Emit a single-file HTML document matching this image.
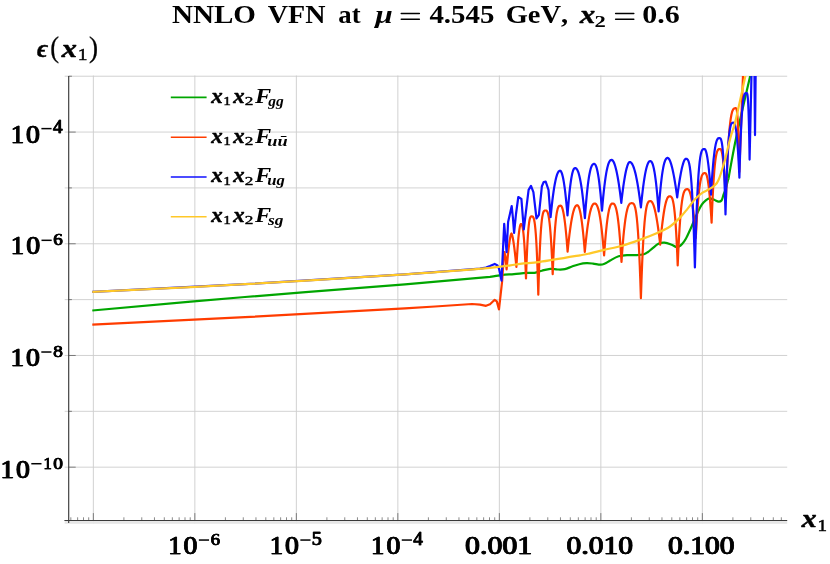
<!DOCTYPE html>
<html><head><meta charset="utf-8"><title>NNLO VFN</title>
<style>html,body{margin:0;padding:0;background:#fff;font-family:"Liberation Serif",serif}svg{display:block}</style>
</head><body>
<svg width="830" height="564" viewBox="0 0 830 564">
<rect width="830" height="564" fill="#fff"/>
<path d="M93.35 75.50 V523.50 M194.85 75.50 V523.50 M296.35 75.50 V523.50 M397.85 75.50 V523.50 M499.35 75.50 V523.50 M600.85 75.50 V523.50 M702.35 75.50 V523.50 M64.70 467.17 H787.20 M64.70 411.32 H787.20 M64.70 355.47 H787.20 M64.70 299.62 H787.20 M64.70 243.77 H787.20 M64.70 187.92 H787.20 M64.70 132.07 H787.20 M64.70 76.22 H787.20" stroke="#cdcdcd" stroke-width="0.9" fill="none"/>
<rect x="64.70" y="521.10" width="722.50" height="2.7" fill="#e6e6e6"/>
<defs><clipPath id="c"><rect x="68.70" y="76.00" width="718.50" height="444.50"/></clipPath></defs>
<g clip-path="url(#c)" fill="none" stroke-width="2.2" stroke-linejoin="round" stroke-linecap="butt">
<path d="M92.30 310.50 C117.75 308.25 192.88 301.37 245.00 297.00 C297.12 292.63 364.17 287.67 405.00 284.30 C445.83 280.93 473.83 278.35 490.00 276.80 C502.00 275.25 498.00 275.45 502.00 275.00 C506.00 274.55 509.97 274.45 514.00 274.10 C518.03 273.75 522.77 273.12 526.20 272.90 C529.63 272.68 531.98 273.17 534.60 272.80 C537.22 272.43 539.28 271.37 541.90 270.70 C544.52 270.03 547.68 269.00 550.30 268.80 C552.92 268.60 555.18 269.43 557.60 269.50 C560.02 269.57 562.40 269.70 564.80 269.20 C567.20 268.70 569.58 267.33 572.00 266.50 C574.42 265.67 576.88 264.75 579.30 264.20 C581.72 263.65 584.22 263.30 586.50 263.20 C588.78 263.10 590.67 263.35 593.00 263.60 C595.33 263.85 598.50 264.72 600.50 264.70 C602.50 264.68 603.38 264.20 605.00 263.50 C606.62 262.80 607.93 261.70 610.20 260.50 C612.47 259.30 615.58 257.20 618.60 256.30 C621.62 255.40 625.28 255.30 628.30 255.10 C631.32 254.90 634.10 255.25 636.70 255.10 C639.30 254.95 642.02 254.72 643.90 254.20 C645.78 253.68 646.58 252.97 648.00 252.00 C649.42 251.03 650.67 249.77 652.40 248.40 C654.13 247.03 656.40 244.75 658.40 243.80 C660.40 242.85 662.18 242.53 664.40 242.70 C666.62 242.87 669.77 244.10 671.70 244.80 C673.63 245.50 674.78 246.62 676.00 246.90 C677.22 247.18 677.98 246.98 679.00 246.50 C680.02 246.02 680.93 245.33 682.10 244.00 C683.27 242.67 684.60 241.00 686.00 238.50 C687.40 236.00 688.53 233.42 690.50 229.00 C692.47 224.58 695.92 216.05 697.80 212.00 C699.68 207.95 700.52 206.60 701.80 204.70 C703.08 202.80 704.25 201.65 705.50 200.60 C706.75 199.55 707.85 198.53 709.30 198.40 C710.75 198.27 712.67 199.25 714.20 199.80 C715.73 200.35 717.28 201.58 718.50 201.70 C719.72 201.82 720.65 201.70 721.50 200.50 C722.35 199.30 722.93 196.33 723.60 194.50 C724.27 192.67 724.78 191.87 725.50 189.50 C726.22 187.13 727.30 182.72 727.90 180.30 C728.50 177.88 727.90 182.23 729.10 175.00 C730.50 167.77 732.78 153.40 736.30 136.90 C739.82 120.40 747.88 86.15 750.20 76.00" stroke="#00a600"/>
<polyline points="92.30,324.60 245.00,317.20 405.00,308.40 435.00,306.50 472.00,304.00 480.00,304.60 486.00,305.80 490.00,304.20 494.70,299.80 496.80,301.40 499.00,309.40 502.10,281.50 503.60,259.00 504.50,252.20 505.50,257.00 506.60,269.30 506.91,265.73 507.21,262.31 507.52,259.04 507.83,255.92 508.13,252.96 508.44,250.16 508.74,247.54 509.05,245.09 509.36,242.83 509.66,240.76 509.97,238.89 510.27,237.25 510.58,235.85 510.89,234.71 511.19,233.89 511.50,233.50 511.81,234.00 512.11,234.92 512.42,236.13 512.73,237.57 513.03,239.21 513.34,241.03 513.64,243.02 513.95,245.16 514.26,247.44 514.56,249.86 514.87,252.41 515.17,255.08 515.48,257.87 515.79,260.77 516.09,263.78 516.40,266.90 516.69,261.83 516.98,257.07 517.26,252.62 517.55,248.48 517.84,244.66 518.12,241.16 518.41,237.97 518.70,235.10 518.99,232.56 519.27,230.34 519.56,228.44 519.85,226.87 520.14,225.64 520.42,224.74 520.71,224.19 521.00,224.00 521.31,224.06 521.62,224.32 521.94,224.86 522.25,225.76 522.56,227.05 522.88,228.80 523.19,231.03 523.50,233.79 523.81,237.10 524.12,241.01 524.44,245.54 524.75,250.72 525.06,256.58 525.38,263.15 525.69,270.45 526.00,278.50 526.35,268.16 526.70,259.00 527.05,250.96 527.40,243.97 527.75,237.97 528.10,232.88 528.45,228.64 528.80,225.18 529.15,222.42 529.50,220.30 529.85,218.73 530.20,217.64 530.55,216.95 530.90,216.58 531.25,216.42 531.60,216.40 532.02,216.41 532.44,216.50 532.86,216.77 533.27,217.33 533.69,218.29 534.11,219.79 534.53,221.95 534.95,224.91 535.37,228.81 535.79,233.78 536.21,239.98 536.62,247.55 537.04,256.64 537.46,267.41 537.88,280.01 538.30,294.60 538.75,278.91 539.20,265.36 539.65,253.77 540.10,244.00 540.55,235.86 541.00,229.19 541.45,223.84 541.90,219.65 542.35,216.47 542.80,214.14 543.25,212.53 543.70,211.50 544.15,210.90 544.60,210.61 545.05,210.51 545.50,210.50 545.95,210.52 546.40,210.66 546.85,211.00 547.30,211.66 547.75,212.70 548.20,214.23 548.65,216.33 549.10,219.07 549.55,222.55 550.00,226.84 550.45,232.03 550.90,238.19 551.35,245.40 551.80,253.73 552.25,263.28 552.70,274.10 553.19,261.66 553.69,250.86 554.18,241.57 554.68,233.66 555.17,227.04 555.66,221.56 556.16,217.13 556.65,213.63 557.14,210.93 557.64,208.94 558.13,207.54 558.62,206.62 559.12,206.08 559.61,205.81 560.11,205.71 560.60,205.70 561.04,205.84 561.48,206.30 561.91,207.10 562.35,208.25 562.79,209.75 563.23,211.63 563.66,213.88 564.10,216.51 564.54,219.52 564.98,222.92 565.41,226.70 565.85,230.89 566.29,235.46 566.73,240.44 567.16,245.82 567.60,251.60 568.19,245.70 568.79,240.21 569.38,235.15 569.98,230.49 570.57,226.25 571.16,222.42 571.76,218.99 572.35,215.96 572.94,213.32 573.54,211.06 574.13,209.19 574.73,207.69 575.32,206.56 575.91,205.78 576.51,205.33 577.10,205.20 577.58,205.33 578.06,205.77 578.54,206.54 579.02,207.66 579.51,209.15 579.99,211.02 580.47,213.28 580.95,215.92 581.43,218.97 581.91,222.42 582.39,226.28 582.88,230.56 583.36,235.25 583.84,240.37 584.32,245.92 584.80,251.90 585.41,245.49 586.02,239.58 586.64,234.15 587.25,229.20 587.86,224.72 588.48,220.71 589.09,217.15 589.70,214.03 590.31,211.35 590.92,209.09 591.54,207.25 592.15,205.79 592.76,204.72 593.38,204.00 593.99,203.61 594.60,203.50 595.19,203.57 595.79,203.88 596.38,204.49 596.98,205.46 597.57,206.83 598.16,208.62 598.76,210.87 599.35,213.60 599.94,216.85 600.54,220.62 601.13,224.95 601.73,229.84 602.32,235.33 602.91,241.43 603.51,248.14 604.10,255.50 604.62,248.14 605.15,241.43 605.68,235.33 606.20,229.84 606.73,224.95 607.25,220.62 607.77,216.85 608.30,213.60 608.83,210.87 609.35,208.62 609.88,206.83 610.40,205.46 610.92,204.49 611.45,203.88 611.98,203.57 612.50,203.50 613.06,203.54 613.62,203.73 614.19,204.18 614.75,204.97 615.31,206.15 615.88,207.81 616.44,209.99 617.00,212.76 617.56,216.17 618.12,220.26 618.69,225.10 619.25,230.72 619.81,237.18 620.38,244.52 620.94,252.77 621.50,262.00 622.13,252.68 622.76,244.35 623.39,236.96 624.02,230.46 624.66,224.80 625.29,219.94 625.92,215.83 626.55,212.42 627.18,209.65 627.81,207.47 628.44,205.83 629.08,204.65 629.71,203.87 630.34,203.43 630.97,203.24 631.60,203.20 632.18,203.21 632.76,203.32 633.34,203.65 633.92,204.32 634.51,205.50 635.09,207.31 635.67,209.94 636.25,213.53 636.83,218.25 637.41,224.29 637.99,231.81 638.58,241.00 639.16,252.03 639.74,265.10 640.32,280.39 640.90,298.10 641.51,280.00 642.11,264.37 642.72,251.01 643.33,239.73 643.93,230.34 644.54,222.66 645.14,216.49 645.75,211.66 646.36,207.98 646.96,205.30 647.57,203.45 648.17,202.25 648.78,201.56 649.39,201.22 649.99,201.11 650.60,201.10 651.20,201.28 651.80,201.81 652.40,202.68 653.00,203.89 653.60,205.45 654.20,207.34 654.80,209.57 655.40,212.14 656.00,215.04 656.60,218.28 657.20,221.85 657.80,225.75 658.40,229.99 659.00,234.56 659.60,239.47 660.20,244.70 660.78,238.29 661.36,232.38 661.94,226.95 662.53,222.00 663.11,217.52 663.69,213.51 664.27,209.95 664.85,206.83 665.43,204.15 666.01,201.89 666.59,200.05 667.17,198.59 667.76,197.52 668.34,196.80 668.92,196.41 669.50,196.30 670.01,196.31 670.52,196.40 671.04,196.66 671.55,197.18 672.06,198.08 672.58,199.46 673.09,201.44 673.60,204.12 674.11,207.63 674.62,212.08 675.14,217.59 675.65,224.30 676.16,232.31 676.68,241.77 677.19,252.79 677.70,265.50 678.31,251.26 678.93,238.97 679.54,228.46 680.15,219.59 680.76,212.20 681.38,206.16 681.99,201.30 682.60,197.50 683.21,194.62 683.83,192.51 684.44,191.05 685.05,190.10 685.66,189.56 686.27,189.30 686.89,189.21 687.50,189.20 688.02,189.30 688.54,189.68 689.06,190.39 689.58,191.45 690.09,192.90 690.61,194.74 691.13,197.00 691.65,199.69 692.17,202.82 692.69,206.40 693.21,210.45 693.72,214.98 694.24,219.99 694.76,225.49 695.28,231.49 695.80,238.00 696.38,226.75 696.95,216.87 697.52,208.27 698.10,200.88 698.67,194.59 699.25,189.32 699.82,184.99 700.40,181.50 700.98,178.76 701.55,176.69 702.12,175.20 702.70,174.19 703.27,173.57 703.85,173.24 704.42,173.12 705.00,173.10 705.41,173.20 705.83,173.56 706.24,174.25 706.65,175.29 707.06,176.71 707.48,178.55 707.89,180.81 708.30,183.51 708.71,186.66 709.12,190.29 709.54,194.40 709.95,199.01 710.36,204.12 710.77,209.75 711.19,215.91 711.60,222.60 712.13,208.87 712.66,197.01 713.19,186.87 713.73,178.31 714.26,171.19 714.79,165.36 715.32,160.68 715.85,157.01 716.38,154.22 716.91,152.19 717.44,150.78 717.98,149.87 718.51,149.35 719.04,149.09 719.57,149.01 720.10,149.00 720.46,149.08 720.83,149.41 721.19,150.05 721.55,151.05 721.91,152.44 722.27,154.25 722.64,156.50 723.00,159.23 723.36,162.44 723.73,166.15 724.09,170.40 724.45,175.18 724.81,180.52 725.17,186.42 725.54,192.91 725.90,200.00 726.51,182.87 727.12,168.08 727.74,155.44 728.35,144.76 728.96,135.88 729.58,128.60 730.19,122.76 730.80,118.19 731.41,114.72 732.02,112.18 732.64,110.42 733.25,109.29 733.86,108.63 734.48,108.32 735.09,108.21 735.70,108.20 735.93,108.22 736.15,108.35 736.38,108.70 736.60,109.35 736.83,110.39 737.05,111.91 737.27,114.00 737.50,116.75 737.73,120.23 737.95,124.53 738.17,129.72 738.40,135.90 738.62,143.14 738.85,151.52 739.07,161.11 739.30,172.00 743.20,70.00" stroke="#ff3c00"/>
<polyline points="92.30,291.80 245.00,284.20 405.00,274.30 480.00,268.70 486.00,267.60 490.00,266.00 494.70,263.90 497.50,265.50 499.00,268.50 501.50,280.60 504.20,223.90 506.60,252.20 508.10,222.00 511.70,206.10 512.90,217.50 514.10,232.90 516.00,214.00 518.30,197.00 521.40,198.90 523.80,229.30 526.50,207.00 528.60,189.80 531.00,185.90 533.40,192.20 536.50,218.50 538.90,214.80 541.90,186.20 543.70,182.00 545.70,181.60 548.50,189.80 550.60,217.20 551.19,211.27 551.77,205.77 552.36,200.68 552.95,196.01 553.54,191.76 554.12,187.92 554.71,184.48 555.30,181.44 555.89,178.80 556.48,176.55 557.06,174.68 557.65,173.18 558.24,172.05 558.83,171.27 559.41,170.83 560.00,170.70 560.47,170.86 560.94,171.35 561.41,172.19 561.88,173.37 562.34,174.91 562.81,176.79 563.28,179.03 563.75,181.63 564.22,184.59 564.69,187.90 565.16,191.58 565.62,195.61 566.09,200.01 566.56,204.78 567.03,209.91 567.50,215.40 567.97,209.27 568.44,203.60 568.91,198.37 569.38,193.58 569.84,189.23 570.31,185.32 570.78,181.83 571.25,178.76 571.72,176.10 572.19,173.84 572.66,171.98 573.12,170.50 573.59,169.39 574.06,168.64 574.53,168.22 575.00,168.10 575.62,168.19 576.24,168.54 576.86,169.21 577.48,170.23 578.09,171.64 578.71,173.47 579.33,175.73 579.95,178.43 580.57,181.61 581.19,185.28 581.81,189.44 582.42,194.12 583.04,199.32 583.66,205.06 584.28,211.35 584.90,218.20 585.48,210.20 586.06,202.95 586.64,196.43 587.23,190.59 587.81,185.44 588.39,180.92 588.97,177.02 589.55,173.71 590.13,170.96 590.71,168.72 591.29,166.98 591.88,165.67 592.46,164.77 593.04,164.22 593.62,163.96 594.20,163.90 594.69,164.03 595.18,164.46 595.66,165.23 596.15,166.35 596.64,167.84 597.12,169.71 597.61,171.96 598.10,174.61 598.59,177.66 599.08,181.12 599.56,184.99 600.05,189.28 600.54,193.99 601.02,199.13 601.51,204.70 602.00,210.70 602.60,203.67 603.20,197.22 603.80,191.35 604.40,186.04 605.00,181.29 605.60,177.06 606.20,173.35 606.80,170.15 607.40,167.43 608.00,165.18 608.60,163.36 609.20,161.97 609.80,160.96 610.40,160.32 611.00,159.98 611.60,159.90 612.21,160.09 612.81,160.64 613.42,161.54 614.02,162.77 614.63,164.34 615.24,166.24 615.84,168.46 616.45,171.00 617.06,173.87 617.66,177.06 618.27,180.56 618.88,184.38 619.48,188.52 620.09,192.97 620.69,197.73 621.30,202.80 621.82,198.20 622.35,193.85 622.88,189.76 623.40,185.93 623.92,182.36 624.45,179.07 624.98,176.04 625.50,173.28 626.02,170.81 626.55,168.62 627.08,166.72 627.60,165.12 628.12,163.83 628.65,162.86 629.18,162.24 629.70,162.00 630.40,162.15 631.10,162.62 631.80,163.43 632.50,164.60 633.20,166.12 633.90,168.00 634.60,170.24 635.30,172.86 636.00,175.85 636.70,179.21 637.40,182.95 638.10,187.07 638.80,191.58 639.50,196.47 640.20,201.74 640.90,207.40 641.48,201.52 642.06,196.06 642.64,191.01 643.23,186.37 643.81,182.14 644.39,178.32 644.97,174.89 645.55,171.87 646.13,169.23 646.71,166.98 647.29,165.10 647.88,163.60 648.46,162.47 649.04,161.68 649.62,161.24 650.20,161.10 650.73,161.19 651.25,161.54 651.78,162.20 652.30,163.22 652.83,164.63 653.35,166.45 653.88,168.71 654.40,171.42 654.93,174.61 655.45,178.28 655.98,182.45 656.50,187.14 657.02,192.36 657.55,198.11 658.08,204.43 658.60,211.30 659.18,203.56 659.75,196.52 660.33,190.16 660.90,184.46 661.48,179.41 662.05,174.96 662.62,171.11 663.20,167.83 663.77,165.08 664.35,162.84 664.92,161.07 665.50,159.75 666.07,158.82 666.65,158.24 667.22,157.96 667.80,157.90 668.39,158.17 668.97,158.85 669.56,159.87 670.15,161.19 670.74,162.81 671.33,164.70 671.91,166.86 672.50,169.29 673.09,171.96 673.67,174.88 674.26,178.04 674.85,181.44 675.44,185.06 676.03,188.92 676.61,193.00 677.20,197.30 677.73,193.19 678.26,189.28 678.79,185.57 679.33,182.07 679.86,178.78 680.39,175.71 680.92,172.87 681.45,170.25 681.98,167.86 682.51,165.72 683.04,163.83 683.58,162.20 684.11,160.86 684.64,159.81 685.17,159.10 685.70,158.80 686.28,158.82 686.85,158.94 687.43,159.31 688.00,160.09 688.58,161.43 689.15,163.51 689.73,166.51 690.30,170.62 690.88,176.03 691.45,182.93 692.02,191.54 692.60,202.05 693.17,214.68 693.75,229.64 694.32,247.14 694.90,267.40 695.49,245.31 696.09,226.23 696.68,209.92 697.27,196.16 697.87,184.70 698.46,175.31 699.06,167.78 699.65,161.88 700.24,157.40 700.84,154.13 701.43,151.86 702.02,150.40 702.62,149.56 703.21,149.15 703.81,149.02 704.40,149.00 704.81,149.15 705.23,149.61 705.64,150.42 706.05,151.58 706.46,153.09 706.88,154.97 707.29,157.22 707.70,159.84 708.11,162.84 708.52,166.21 708.94,169.97 709.35,174.12 709.76,178.65 710.17,183.58 710.59,188.89 711.00,194.60 711.51,185.97 712.02,178.20 712.54,171.25 713.05,165.09 713.56,159.68 714.08,155.00 714.59,150.99 715.10,147.63 715.61,144.86 716.12,142.65 716.64,140.95 717.15,139.71 717.66,138.87 718.18,138.37 718.69,138.15 719.20,138.10 719.59,138.11 719.99,138.20 720.38,138.46 720.78,139.00 721.17,139.95 721.56,141.41 721.96,143.52 722.35,146.41 722.74,150.22 723.14,155.08 723.53,161.13 723.92,168.53 724.32,177.41 724.71,187.93 725.11,200.24 725.50,214.50 725.99,197.37 726.48,182.58 726.96,169.94 727.45,159.26 727.94,150.38 728.42,143.10 728.91,137.26 729.40,132.69 729.89,129.22 730.38,126.68 730.86,124.92 731.35,123.79 731.84,123.13 732.32,122.82 732.81,122.71 733.30,122.70 733.68,122.75 734.06,123.00 734.44,123.54 734.82,124.42 735.21,125.70 735.59,127.44 735.97,129.66 736.35,132.42 736.73,135.75 737.11,139.68 737.49,144.25 737.88,149.49 738.26,155.43 738.64,162.09 739.02,169.50 739.40,177.70 739.84,161.90 740.29,148.25 740.73,136.58 741.17,126.73 741.62,118.54 742.06,111.82 742.51,106.44 742.95,102.22 743.39,99.01 743.84,96.67 744.28,95.05 744.73,94.00 745.17,93.40 745.61,93.11 746.06,93.01 746.50,93.00 746.69,93.02 746.89,93.12 747.08,93.42 747.27,94.00 747.47,94.97 747.66,96.42 747.86,98.45 748.05,101.17 748.24,104.67 748.44,109.05 748.63,114.42 748.83,120.88 749.02,128.52 749.21,137.45 749.41,147.78 749.60,159.60 751.60,70.00" stroke="#1010ff"/>
<polyline points="754.40,70.00 755.00,135.10 755.70,70.00" stroke="#1010ff"/>
<path d="M92.30 291.80 C117.75 290.53 192.88 287.12 245.00 284.20 C297.12 281.28 364.17 277.02 405.00 274.30 C445.83 271.58 470.83 269.63 490.00 267.90 C509.17 266.17 511.67 264.90 520.00 263.90 C528.33 262.90 530.00 263.33 540.00 261.90 C550.00 260.47 571.67 256.72 580.00 255.30 C588.33 253.88 585.98 254.30 590.00 253.40 C594.02 252.50 598.73 251.18 604.10 249.90 C609.47 248.62 616.17 247.42 622.20 245.70 C628.23 243.98 634.27 241.82 640.30 239.60 C646.33 237.38 653.45 234.58 658.40 232.40 C663.35 230.22 666.40 228.97 670.00 226.50 C673.60 224.03 677.12 220.50 680.00 217.60 C682.88 214.70 684.88 212.07 687.30 209.10 C689.72 206.13 692.08 202.47 694.50 199.80 C696.92 197.13 699.37 194.85 701.80 193.10 C704.23 191.35 707.03 190.52 709.10 189.30 C711.17 188.08 712.65 187.30 714.20 185.80 C715.75 184.30 716.72 184.23 718.40 180.30 C720.08 176.37 722.32 169.23 724.30 162.20 C726.28 155.17 728.40 145.13 730.30 138.10 C732.20 131.07 733.18 130.35 735.70 120.00 C738.22 109.65 743.78 83.33 745.40 76.00" stroke="#ffc828"/>
</g>
<path d="M68.70 76.00 V522.90 M64.40 520.50 H787.20" stroke="#3a3a3a" stroke-width="1.15" fill="none"/>
<path d="M70.83 520.50 v-3.20 M77.63 520.50 v-3.20 M83.51 520.50 v-3.20 M88.71 520.50 v-3.20 M93.35 520.50 v-7.40 M123.90 520.50 v-3.20 M141.78 520.50 v-3.20 M154.46 520.50 v-3.20 M164.30 520.50 v-3.20 M172.33 520.50 v-3.20 M179.13 520.50 v-3.20 M185.01 520.50 v-3.20 M190.21 520.50 v-3.20 M194.85 520.50 v-7.40 M225.40 520.50 v-3.20 M243.28 520.50 v-3.20 M255.96 520.50 v-3.20 M265.80 520.50 v-3.20 M273.83 520.50 v-3.20 M280.63 520.50 v-3.20 M286.51 520.50 v-3.20 M291.71 520.50 v-3.20 M296.35 520.50 v-7.40 M326.90 520.50 v-3.20 M344.78 520.50 v-3.20 M357.46 520.50 v-3.20 M367.30 520.50 v-3.20 M375.33 520.50 v-3.20 M382.13 520.50 v-3.20 M388.01 520.50 v-3.20 M393.21 520.50 v-3.20 M397.85 520.50 v-7.40 M428.40 520.50 v-3.20 M446.28 520.50 v-3.20 M458.96 520.50 v-3.20 M468.80 520.50 v-3.20 M476.83 520.50 v-3.20 M483.63 520.50 v-3.20 M489.51 520.50 v-3.20 M494.71 520.50 v-3.20 M499.35 520.50 v-7.40 M529.90 520.50 v-3.20 M547.78 520.50 v-3.20 M560.46 520.50 v-3.20 M570.30 520.50 v-3.20 M578.33 520.50 v-3.20 M585.13 520.50 v-3.20 M591.01 520.50 v-3.20 M596.21 520.50 v-3.20 M600.85 520.50 v-7.40 M631.40 520.50 v-3.20 M649.28 520.50 v-3.20 M661.96 520.50 v-3.20 M671.80 520.50 v-3.20 M679.83 520.50 v-3.20 M686.63 520.50 v-3.20 M692.51 520.50 v-3.20 M697.71 520.50 v-3.20 M702.35 520.50 v-7.40 M732.90 520.50 v-3.20 M750.78 520.50 v-3.20 M763.46 520.50 v-3.20 M773.30 520.50 v-3.20 M781.33 520.50 v-3.20 M68.70 467.17 h7.00 M68.70 411.32 h3.20 M68.70 355.47 h7.00 M68.70 299.62 h3.20 M68.70 243.77 h7.00 M68.70 187.92 h3.20 M68.70 132.07 h7.00 M68.70 76.22 h3.20" stroke="#3a3a3a" stroke-width="0.6" fill="none"/>
<path d="M170.8 97.40 H206.6" stroke="#00a600" stroke-width="1.6" fill="none"/>
<path d="M170.8 137.30 H206.6" stroke="#ff3c00" stroke-width="1.6" fill="none"/>
<path d="M170.8 177.00 H206.6" stroke="#1010ff" stroke-width="1.6" fill="none"/>
<path d="M170.8 216.80 H206.6" stroke="#ffc828" stroke-width="1.6" fill="none"/>
<g font-family="Liberation Serif" style="font-kerning:none" opacity="0.999"><text transform="translate(171.95,22.90) scale(1.1926,1)" font-size="24.40" style="font-weight:bold" fill="#000">NNLO</text>
<text transform="translate(267.78,22.90) scale(1.1503,1)" font-size="24.40" style="font-weight:bold" fill="#000">VFN</text>
<text transform="translate(338.34,22.90) scale(1.0961,1)" font-size="24.40" style="font-weight:bold" fill="#000">at</text>
<text transform="translate(375.34,22.90) scale(1.2891,1)" font-size="24.40" style="font-weight:bold;font-style:italic" fill="#000">μ</text>
<path d="M401.25 13.6H419.35M401.25 19.25H419.35" stroke="#000" stroke-width="1.5" stroke-linecap="round" fill="none"/>
<text transform="translate(429.40,22.90) scale(1.1850,1)" font-size="24.40" style="font-weight:bold" fill="#000">4.545</text>
<text transform="translate(505.71,22.90) scale(1.1652,1)" font-size="24.40" style="font-weight:bold" fill="#000">GeV,</text>
<text transform="translate(579.97,22.90) scale(1.1945,1)" font-size="25.40" style="font-weight:bold;font-style:italic" fill="#000" stroke="#000" stroke-width="0.60" stroke-linejoin="round" vector-effect="non-scaling-stroke">x</text>
<text transform="translate(594.45,26.50) scale(1.3168,1)" font-size="17.20" style="font-weight:bold" fill="#000">2</text>
<path d="M615.6 13.6H633.8M615.6 19.25H633.8" stroke="#000" stroke-width="1.5" stroke-linecap="round" fill="none"/>
<text transform="translate(642.36,22.90) scale(1.2303,1)" font-size="24.40" style="font-weight:bold" fill="#000">0.6</text>
<text transform="translate(37.04,56.60) scale(1.0320,1)" font-size="24.40" style="font-weight:bold;font-style:italic" fill="#000" stroke="#000" stroke-width="0.50" stroke-linejoin="round" vector-effect="non-scaling-stroke">ϵ</text>
<g transform="translate(0,56.60) scale(1,1.2) translate(0,-56.60)"><text transform="translate(50.29,57.20) scale(1.0851,1)" font-size="24.40" style="" fill="#000" stroke="#000" stroke-width="0.30" stroke-linejoin="round" vector-effect="non-scaling-stroke">(</text><text transform="translate(88.97,57.20) scale(1.1170,1)" font-size="24.40" style="" fill="#000" stroke="#000" stroke-width="0.30" stroke-linejoin="round" vector-effect="non-scaling-stroke">)</text></g>
<text transform="translate(61.67,56.60) scale(1.1945,1)" font-size="25.40" style="font-weight:bold;font-style:italic" fill="#000" stroke="#000" stroke-width="0.60" stroke-linejoin="round" vector-effect="non-scaling-stroke">x</text>
<text transform="translate(77.73,59.95) scale(1.1762,1)" font-size="16.66" style="" fill="#000" stroke="#000" stroke-width="0.50" stroke-linejoin="round" vector-effect="non-scaling-stroke">1</text>
<text transform="translate(801.76,526.70) scale(1.1703,1)" font-size="25.40" style="font-weight:bold;font-style:italic" fill="#000" stroke="#000" stroke-width="0.60" stroke-linejoin="round" vector-effect="non-scaling-stroke">x</text>
<text transform="translate(817.48,530.65) scale(1.1118,1)" font-size="17.12" style="" fill="#000" stroke="#000" stroke-width="0.50" stroke-linejoin="round" vector-effect="non-scaling-stroke">1</text>
<text transform="translate(210.44,544.90) scale(1.0729,1)" font-size="17.67" style="" fill="#000" stroke="#000" stroke-width="0.60" stroke-linejoin="round" vector-effect="non-scaling-stroke">6</text><text transform="translate(210.84,544.90) scale(1.0729,1)" font-size="17.67" style="" fill="#000" stroke="#000" stroke-width="0.60" stroke-linejoin="round" vector-effect="non-scaling-stroke">6</text><rect x="198.85" y="539.30" width="10.2" height="1.5"/><text transform="translate(167.88,554.02) scale(1.0847,1)" font-size="24.62" style="" fill="#000" stroke="#000" stroke-width="0.75" stroke-linejoin="round" vector-effect="non-scaling-stroke">1</text><text transform="translate(168.43,554.02) scale(1.0847,1)" font-size="24.62" style="" fill="#000" stroke="#000" stroke-width="0.75" stroke-linejoin="round" vector-effect="non-scaling-stroke">1</text><text transform="translate(183.26,554.02) scale(1.1394,1)" font-size="24.43" style="" fill="#000" stroke="#000" stroke-width="0.75" stroke-linejoin="round" vector-effect="non-scaling-stroke">0</text><text transform="translate(183.81,554.02) scale(1.1394,1)" font-size="24.43" style="" fill="#000" stroke="#000" stroke-width="0.75" stroke-linejoin="round" vector-effect="non-scaling-stroke">0</text>
<text transform="translate(311.58,544.90) scale(1.1253,1)" font-size="17.87" style="" fill="#000" stroke="#000" stroke-width="0.60" stroke-linejoin="round" vector-effect="non-scaling-stroke">5</text><text transform="translate(311.98,544.90) scale(1.1253,1)" font-size="17.87" style="" fill="#000" stroke="#000" stroke-width="0.60" stroke-linejoin="round" vector-effect="non-scaling-stroke">5</text><rect x="300.35" y="539.30" width="10.2" height="1.5"/><text transform="translate(269.38,554.02) scale(1.0847,1)" font-size="24.62" style="" fill="#000" stroke="#000" stroke-width="0.75" stroke-linejoin="round" vector-effect="non-scaling-stroke">1</text><text transform="translate(269.93,554.02) scale(1.0847,1)" font-size="24.62" style="" fill="#000" stroke="#000" stroke-width="0.75" stroke-linejoin="round" vector-effect="non-scaling-stroke">1</text><text transform="translate(284.76,554.02) scale(1.1394,1)" font-size="24.43" style="" fill="#000" stroke="#000" stroke-width="0.75" stroke-linejoin="round" vector-effect="non-scaling-stroke">0</text><text transform="translate(285.31,554.02) scale(1.1394,1)" font-size="24.43" style="" fill="#000" stroke="#000" stroke-width="0.75" stroke-linejoin="round" vector-effect="non-scaling-stroke">0</text>
<text transform="translate(413.08,544.90) scale(1.0771,1)" font-size="17.78" style="" fill="#000" stroke="#000" stroke-width="0.60" stroke-linejoin="round" vector-effect="non-scaling-stroke">4</text><text transform="translate(413.48,544.90) scale(1.0771,1)" font-size="17.78" style="" fill="#000" stroke="#000" stroke-width="0.60" stroke-linejoin="round" vector-effect="non-scaling-stroke">4</text><rect x="401.75" y="539.30" width="10.2" height="1.5"/><text transform="translate(370.78,554.02) scale(1.0847,1)" font-size="24.62" style="" fill="#000" stroke="#000" stroke-width="0.75" stroke-linejoin="round" vector-effect="non-scaling-stroke">1</text><text transform="translate(371.33,554.02) scale(1.0847,1)" font-size="24.62" style="" fill="#000" stroke="#000" stroke-width="0.75" stroke-linejoin="round" vector-effect="non-scaling-stroke">1</text><text transform="translate(386.16,554.02) scale(1.1394,1)" font-size="24.43" style="" fill="#000" stroke="#000" stroke-width="0.75" stroke-linejoin="round" vector-effect="non-scaling-stroke">0</text><text transform="translate(386.71,554.02) scale(1.1394,1)" font-size="24.43" style="" fill="#000" stroke="#000" stroke-width="0.75" stroke-linejoin="round" vector-effect="non-scaling-stroke">0</text>
<text transform="translate(52.73,133.47) scale(1.0771,1)" font-size="17.78" style="" fill="#000" stroke="#000" stroke-width="0.60" stroke-linejoin="round" vector-effect="non-scaling-stroke">4</text><text transform="translate(53.13,133.47) scale(1.0771,1)" font-size="17.78" style="" fill="#000" stroke="#000" stroke-width="0.60" stroke-linejoin="round" vector-effect="non-scaling-stroke">4</text><rect x="41.40" y="127.87" width="10.2" height="1.5"/><text transform="translate(10.43,142.59) scale(1.0847,1)" font-size="24.62" style="" fill="#000" stroke="#000" stroke-width="0.75" stroke-linejoin="round" vector-effect="non-scaling-stroke">1</text><text transform="translate(10.98,142.59) scale(1.0847,1)" font-size="24.62" style="" fill="#000" stroke="#000" stroke-width="0.75" stroke-linejoin="round" vector-effect="non-scaling-stroke">1</text><text transform="translate(25.81,142.59) scale(1.1394,1)" font-size="24.43" style="" fill="#000" stroke="#000" stroke-width="0.75" stroke-linejoin="round" vector-effect="non-scaling-stroke">0</text><text transform="translate(26.36,142.59) scale(1.1394,1)" font-size="24.43" style="" fill="#000" stroke="#000" stroke-width="0.75" stroke-linejoin="round" vector-effect="non-scaling-stroke">0</text>
<text transform="translate(53.09,245.17) scale(1.0729,1)" font-size="17.67" style="" fill="#000" stroke="#000" stroke-width="0.60" stroke-linejoin="round" vector-effect="non-scaling-stroke">6</text><text transform="translate(53.49,245.17) scale(1.0729,1)" font-size="17.67" style="" fill="#000" stroke="#000" stroke-width="0.60" stroke-linejoin="round" vector-effect="non-scaling-stroke">6</text><rect x="41.50" y="239.57" width="10.2" height="1.5"/><text transform="translate(10.53,254.29) scale(1.0847,1)" font-size="24.62" style="" fill="#000" stroke="#000" stroke-width="0.75" stroke-linejoin="round" vector-effect="non-scaling-stroke">1</text><text transform="translate(11.08,254.29) scale(1.0847,1)" font-size="24.62" style="" fill="#000" stroke="#000" stroke-width="0.75" stroke-linejoin="round" vector-effect="non-scaling-stroke">1</text><text transform="translate(25.91,254.29) scale(1.1394,1)" font-size="24.43" style="" fill="#000" stroke="#000" stroke-width="0.75" stroke-linejoin="round" vector-effect="non-scaling-stroke">0</text><text transform="translate(26.46,254.29) scale(1.1394,1)" font-size="24.43" style="" fill="#000" stroke="#000" stroke-width="0.75" stroke-linejoin="round" vector-effect="non-scaling-stroke">0</text>
<text transform="translate(52.95,356.87) scale(1.1131,1)" font-size="17.59" style="" fill="#000" stroke="#000" stroke-width="0.60" stroke-linejoin="round" vector-effect="non-scaling-stroke">8</text><text transform="translate(53.35,356.87) scale(1.1131,1)" font-size="17.59" style="" fill="#000" stroke="#000" stroke-width="0.60" stroke-linejoin="round" vector-effect="non-scaling-stroke">8</text><rect x="41.30" y="351.27" width="10.2" height="1.5"/><text transform="translate(10.33,366.00) scale(1.0847,1)" font-size="24.62" style="" fill="#000" stroke="#000" stroke-width="0.75" stroke-linejoin="round" vector-effect="non-scaling-stroke">1</text><text transform="translate(10.88,366.00) scale(1.0847,1)" font-size="24.62" style="" fill="#000" stroke="#000" stroke-width="0.75" stroke-linejoin="round" vector-effect="non-scaling-stroke">1</text><text transform="translate(25.71,366.00) scale(1.1394,1)" font-size="24.43" style="" fill="#000" stroke="#000" stroke-width="0.75" stroke-linejoin="round" vector-effect="non-scaling-stroke">0</text><text transform="translate(26.26,366.00) scale(1.1394,1)" font-size="24.43" style="" fill="#000" stroke="#000" stroke-width="0.75" stroke-linejoin="round" vector-effect="non-scaling-stroke">0</text>
<text transform="translate(53.06,468.57) scale(1.0997,1)" font-size="17.59" style="" fill="#000" stroke="#000" stroke-width="0.60" stroke-linejoin="round" vector-effect="non-scaling-stroke">0</text><text transform="translate(53.46,468.57) scale(1.0997,1)" font-size="17.59" style="" fill="#000" stroke="#000" stroke-width="0.60" stroke-linejoin="round" vector-effect="non-scaling-stroke">0</text><text transform="translate(43.20,468.57) scale(0.9616,1)" font-size="17.72" style="" fill="#000" stroke="#000" stroke-width="0.60" stroke-linejoin="round" vector-effect="non-scaling-stroke">1</text><text transform="translate(43.60,468.57) scale(0.9616,1)" font-size="17.72" style="" fill="#000" stroke="#000" stroke-width="0.60" stroke-linejoin="round" vector-effect="non-scaling-stroke">1</text><rect x="31.30" y="462.97" width="10.2" height="1.5"/><text transform="translate(0.33,477.69) scale(1.0847,1)" font-size="24.62" style="" fill="#000" stroke="#000" stroke-width="0.75" stroke-linejoin="round" vector-effect="non-scaling-stroke">1</text><text transform="translate(0.88,477.69) scale(1.0847,1)" font-size="24.62" style="" fill="#000" stroke="#000" stroke-width="0.75" stroke-linejoin="round" vector-effect="non-scaling-stroke">1</text><text transform="translate(15.71,477.69) scale(1.1394,1)" font-size="24.43" style="" fill="#000" stroke="#000" stroke-width="0.75" stroke-linejoin="round" vector-effect="non-scaling-stroke">0</text><text transform="translate(16.26,477.69) scale(1.1394,1)" font-size="24.43" style="" fill="#000" stroke="#000" stroke-width="0.75" stroke-linejoin="round" vector-effect="non-scaling-stroke">0</text>
<text transform="translate(464.79,554.02) scale(1.2229,1)" font-size="24.43" style="" fill="#000" stroke="#000" stroke-width="0.75" stroke-linejoin="round" vector-effect="non-scaling-stroke">0.001</text><text transform="translate(465.34,554.02) scale(1.2229,1)" font-size="24.43" style="" fill="#000" stroke="#000" stroke-width="0.75" stroke-linejoin="round" vector-effect="non-scaling-stroke">0.001</text>
<text transform="translate(566.30,554.02) scale(1.2105,1)" font-size="24.43" style="" fill="#000" stroke="#000" stroke-width="0.75" stroke-linejoin="round" vector-effect="non-scaling-stroke">0.010</text><text transform="translate(566.85,554.02) scale(1.2105,1)" font-size="24.43" style="" fill="#000" stroke="#000" stroke-width="0.75" stroke-linejoin="round" vector-effect="non-scaling-stroke">0.010</text>
<text transform="translate(667.80,554.02) scale(1.2105,1)" font-size="24.43" style="" fill="#000" stroke="#000" stroke-width="0.75" stroke-linejoin="round" vector-effect="non-scaling-stroke">0.100</text><text transform="translate(668.35,554.02) scale(1.2105,1)" font-size="24.43" style="" fill="#000" stroke="#000" stroke-width="0.75" stroke-linejoin="round" vector-effect="non-scaling-stroke">0.100</text>
<text transform="translate(211.13,102.70) scale(1.0630,1)" font-size="21.60" style="font-weight:bold;font-style:italic" fill="#000" stroke="#000" stroke-width="0.50" stroke-linejoin="round" vector-effect="non-scaling-stroke">x</text>
<text transform="translate(223.20,105.05) scale(1.1639,1)" font-size="13.18" style="" fill="#000" stroke="#000" stroke-width="0.50" stroke-linejoin="round" vector-effect="non-scaling-stroke">1</text>
<text transform="translate(233.23,102.70) scale(1.0535,1)" font-size="21.60" style="font-weight:bold;font-style:italic" fill="#000" stroke="#000" stroke-width="0.50" stroke-linejoin="round" vector-effect="non-scaling-stroke">x</text>
<text transform="translate(244.79,105.05) scale(1.3099,1)" font-size="13.14" style="" fill="#000" stroke="#000" stroke-width="0.50" stroke-linejoin="round" vector-effect="non-scaling-stroke">2</text>
<text transform="translate(255.12,102.70) scale(1.1853,1)" font-size="20.46" style="font-weight:bold;font-style:italic" fill="#000">F</text>
<text transform="translate(268.19,105.70) scale(1.0704,1)" font-size="14.50" style="font-weight:bold;font-style:italic" fill="#000">gg</text>
<text transform="translate(211.13,142.50) scale(1.0630,1)" font-size="21.60" style="font-weight:bold;font-style:italic" fill="#000" stroke="#000" stroke-width="0.50" stroke-linejoin="round" vector-effect="non-scaling-stroke">x</text>
<text transform="translate(223.20,144.85) scale(1.1639,1)" font-size="13.18" style="" fill="#000" stroke="#000" stroke-width="0.50" stroke-linejoin="round" vector-effect="non-scaling-stroke">1</text>
<text transform="translate(233.23,142.50) scale(1.0535,1)" font-size="21.60" style="font-weight:bold;font-style:italic" fill="#000" stroke="#000" stroke-width="0.50" stroke-linejoin="round" vector-effect="non-scaling-stroke">x</text>
<text transform="translate(244.79,144.85) scale(1.3099,1)" font-size="13.14" style="" fill="#000" stroke="#000" stroke-width="0.50" stroke-linejoin="round" vector-effect="non-scaling-stroke">2</text>
<text transform="translate(255.12,142.50) scale(1.1853,1)" font-size="20.46" style="font-weight:bold;font-style:italic" fill="#000">F</text>
<text transform="translate(267.23,145.50) scale(1.2630,1)" font-size="14.50" style="font-weight:bold;font-style:italic" fill="#000">uū</text>
<text transform="translate(211.13,182.30) scale(1.0630,1)" font-size="21.60" style="font-weight:bold;font-style:italic" fill="#000" stroke="#000" stroke-width="0.50" stroke-linejoin="round" vector-effect="non-scaling-stroke">x</text>
<text transform="translate(223.20,184.65) scale(1.1639,1)" font-size="13.18" style="" fill="#000" stroke="#000" stroke-width="0.50" stroke-linejoin="round" vector-effect="non-scaling-stroke">1</text>
<text transform="translate(233.23,182.30) scale(1.0535,1)" font-size="21.60" style="font-weight:bold;font-style:italic" fill="#000" stroke="#000" stroke-width="0.50" stroke-linejoin="round" vector-effect="non-scaling-stroke">x</text>
<text transform="translate(244.79,184.65) scale(1.3099,1)" font-size="13.14" style="" fill="#000" stroke="#000" stroke-width="0.50" stroke-linejoin="round" vector-effect="non-scaling-stroke">2</text>
<text transform="translate(255.12,182.30) scale(1.1853,1)" font-size="20.46" style="font-weight:bold;font-style:italic" fill="#000">F</text>
<text transform="translate(267.29,185.30) scale(1.1527,1)" font-size="14.50" style="font-weight:bold;font-style:italic" fill="#000">ug</text>
<text transform="translate(211.13,222.10) scale(1.0630,1)" font-size="21.60" style="font-weight:bold;font-style:italic" fill="#000" stroke="#000" stroke-width="0.50" stroke-linejoin="round" vector-effect="non-scaling-stroke">x</text>
<text transform="translate(223.20,224.45) scale(1.1639,1)" font-size="13.18" style="" fill="#000" stroke="#000" stroke-width="0.50" stroke-linejoin="round" vector-effect="non-scaling-stroke">1</text>
<text transform="translate(233.23,222.10) scale(1.0535,1)" font-size="21.60" style="font-weight:bold;font-style:italic" fill="#000" stroke="#000" stroke-width="0.50" stroke-linejoin="round" vector-effect="non-scaling-stroke">x</text>
<text transform="translate(244.79,224.45) scale(1.3099,1)" font-size="13.14" style="" fill="#000" stroke="#000" stroke-width="0.50" stroke-linejoin="round" vector-effect="non-scaling-stroke">2</text>
<text transform="translate(255.12,222.10) scale(1.1853,1)" font-size="20.46" style="font-weight:bold;font-style:italic" fill="#000">F</text>
<text transform="translate(267.99,225.10) scale(1.1995,1)" font-size="14.50" style="font-weight:bold;font-style:italic" fill="#000">sg</text></g>
</svg>
</body></html>
